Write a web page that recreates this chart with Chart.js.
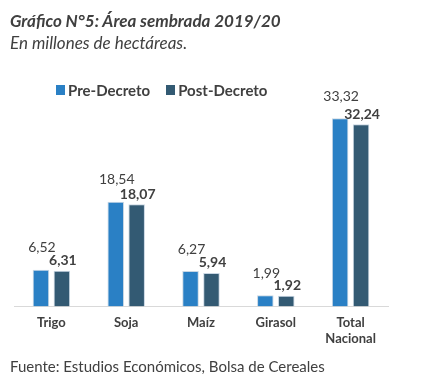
<!DOCTYPE html>
<html>
<head>
<meta charset="utf-8">
<script src="https://cdn.jsdelivr.net/npm/chart.js@4.4.0/dist/chart.umd.min.js"></script>
<style>
  body { margin: 0; background: #fff; }
  #wrap { position: relative; width: 432px; height: 385px; overflow: hidden; font-family: Lato, sans-serif; color: #404040; }
  #chart { position: absolute; left: 0; top: 0; }
  .title { position: absolute; left: 10px; top: 10px; font-size: 17px; font-weight: bold; font-style: italic; }
  .subtitle { position: absolute; left: 10px; top: 32px; font-size: 17px; font-style: italic; }
  .footer { position: absolute; left: 10px; top: 357px; font-size: 15px; }
  #legend { position: absolute; left: 56px; top: 81px; display: flex; font-size: 15px; font-weight: bold; }
  #legend span.item { display: flex; align-items: center; margin-right: 16px; }
  #legend span.box { width: 9px; height: 10px; margin-right: 3px; display: inline-block; }
</style>
</head>
<body>
<div id="wrap">
  <canvas id="chart" width="432" height="385"></canvas>
  <div class="title">Gráfico N°5: Área sembrada 2019/20</div>
  <div class="subtitle">En millones de hectáreas.</div>
  <div id="legend"></div>
  <div class="footer">Fuente: Estudios Económicos, Bolsa de Cereales</div>
</div>
<script>
const categories = ['Trigo', 'Soja', 'Maíz', 'Girasol', ['Total', 'Nacional']];
const preDecreto = [6.52, 18.54, 6.27, 1.99, 33.32];
const postDecreto = [6.31, 18.07, 5.94, 1.92, 32.24];
const seriesNames = ['Pre-Decreto', 'Post-Decreto'];
const seriesColors = ['#2a80c5', '#335a73'];

function formatValue(v) {
  return v.toFixed(2).replace('.', ',');
}

// labels above each bar: pre values light, post values bold
const valueLabels = {
  id: 'valueLabels',
  afterDatasetsDraw(chart) {
    const ctx = chart.ctx;
    ctx.save();
    ctx.textAlign = 'center';
    ctx.textBaseline = 'middle';
    ctx.fillStyle = '#404040';
    chart.data.datasets.forEach((ds, i) => {
      const meta = chart.getDatasetMeta(i);
      ctx.font = i === 0 ? '14px Lato' : 'bold 14px Lato';
      const offset = i === 0 ? 22 : 10;
      meta.data.forEach((bar, j) => {
        ctx.fillText(formatValue(ds.data[j]), bar.x + 1, bar.y - offset);
      });
    });
    ctx.restore();
  },
};

const chart = new Chart(document.getElementById('chart'), {
  type: 'bar',
  data: {
    labels: categories,
    datasets: seriesNames.map((name, i) => ({
      label: name,
      data: i === 0 ? preDecreto : postDecreto,
      backgroundColor: seriesColors[i],
      borderColor: '#c8d6e3',
      borderWidth: 1,
      categoryPercentage: 0.56,
      barPercentage: 0.79,
    })),
  },
  options: {
    responsive: false,
    animation: false,
    layout: { padding: { left: 14, right: 44, top: 103, bottom: 30 } },
    plugins: {
      legend: { display: false },
      tooltip: { enabled: false },
    },
    scales: {
      y: { display: false, min: 0, max: 36 },
      x: {
        grid: { display: false, drawTicks: false },
        border: { display: true, color: '#d9d9d9', width: 1 },
        ticks: {
          color: '#404040',
          padding: 8,
          maxRotation: 0,
          font: { family: 'Lato', size: 13, weight: 'bold', lineHeight: 1.25 },
        },
      },
    },
  },
  plugins: [valueLabels],
});

// html legend built from the datasets
const legendEl = document.getElementById('legend');
chart.data.datasets.forEach((ds) => {
  const item = document.createElement('span');
  item.className = 'item';
  item.innerHTML = `<span class="box" style="background:${ds.backgroundColor}"></span>${ds.label}`;
  legendEl.appendChild(item);
});
</script>
</body>
</html>
